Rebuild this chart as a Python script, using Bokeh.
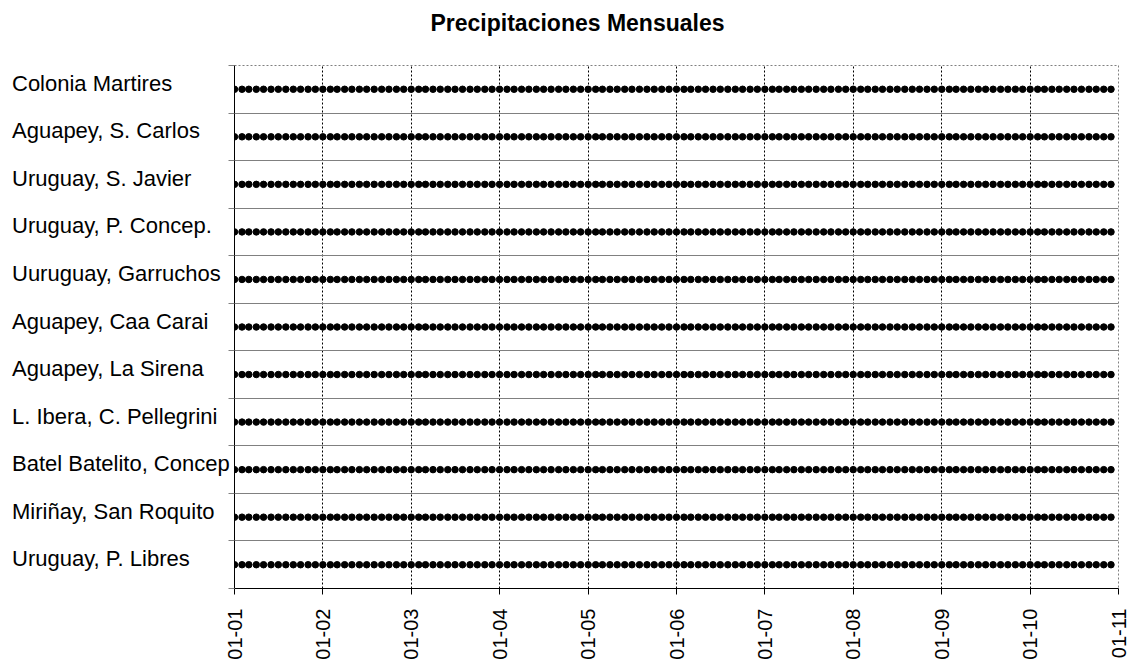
from datetime import datetime
import pandas as pd
from bokeh.plotting import figure
from bokeh.models import Range1d, FixedTicker, ColumnDataSource, Title, HTMLLabelSet
from bokeh.core.properties import value
from bokeh.embed import file_html
from bokeh.resources import INLINE

# ---- data ----
stations = [
    "Colonia Martires",
    "Aguapey, S. Carlos",
    "Uruguay, S. Javier",
    "Uruguay, P. Concep.",
    "Uuruguay, Garruchos",
    "Aguapey, Caa Carai",
    "Aguapey, La Sirena",
    "L. Ibera, C. Pellegrini",
    "Batel Batelito, Concep",
    "Miriñay, San Roquito",
    "Uruguay, P. Libres",
]
# first and last month with monthly precipitation record, per station
first_month = ["2001-01", "2001-01", "2001-01", "2001-01", "2001-01", "2001-01",
               "2001-01", "2001-01", "2001-01", "2001-01", "2001-01"]
last_month = ["2010-12", "2010-12", "2010-12", "2010-12", "2010-12", "2010-12",
              "2010-12", "2010-12", "2010-12", "2010-12", "2010-12"]
tick_years = [2001, 2002, 2003, 2004, 2005, 2006, 2007, 2008, 2009, 2010, 2011]
tick_labels = ["01-01", "01-02", "01-03", "01-04", "01-05", "01-06",
               "01-07", "01-08", "01-09", "01-10", "01-11"]

FONT = "Liberation Sans"
n = len(stations)
row_y = [n - i - 0.5 for i in range(n)]

xs, ys = [], []
for yv, a, b in zip(row_y, first_month, last_month):
    months = pd.date_range(a, b, freq="MS")
    xs.extend(months.to_pydatetime())
    ys.extend([yv] * len(months))
dots = ColumnDataSource(dict(x=xs, y=ys))

x0 = datetime(tick_years[0], 1, 1)
x1 = datetime(tick_years[-1], 1, 1)

p = figure(
    frame_width=884, frame_height=523,
    x_axis_type="datetime",
    x_range=Range1d(x0, x1), y_range=Range1d(0, n),
    output_backend="svg", toolbar_location=None,
    min_border_left=234, min_border_right=10, min_border_top=65, min_border_bottom=80,
    background_fill_color="white", border_fill_color="white",
    title=None,
)
p.outline_line_color = "#808080"
p.outline_line_dash = "2 2"

# spacer (closest to the frame), then the title above it
p.add_layout(Title(text=" ", text_font_size="1px", standoff=20), "above")
p.add_layout(Title(text="Precipitaciones Mensuales", align="left", offset=196,
                   text_font=FONT, text_font_size="23px", text_font_style="bold",
                   text_color="black", standoff=14), "above")

p.scatter("x", "y", source=dots, size=6.5, color="black", marker="circle")

# x axis
tick_ms = [datetime(y, 1, 1).timestamp() * 1000 for y in tick_years]
xa = p.xaxis[0]
xa.ticker = FixedTicker(ticks=tick_ms)
xa.major_label_overrides = {tm: lab for tm, lab in zip(tick_ms, tick_labels)}
xa.major_label_orientation = 3.14159265 / 2
xa.major_label_text_font = FONT
xa.major_label_text_font_size = "20px"
xa.major_label_text_color = "black"
xa.major_label_standoff = 14
xa.axis_line_color = "black"
xa.major_tick_line_color = "black"
xa.major_tick_in = 0
xa.major_tick_out = 6
xa.minor_tick_line_color = None

# y axis: ticks at category boundaries, labels drawn as annotations
ya = p.yaxis[0]
ya.ticker = FixedTicker(ticks=list(range(n + 1)))
ya.major_label_text_font_size = "0px"
ya.major_label_text_alpha = 0
ya.major_label_standoff = 0
ya.axis_line_color = "black"
ya.major_tick_line_color = "#808080"
ya.major_tick_in = 0
ya.major_tick_out = 6
ya.minor_tick_line_color = None

# grids
p.xgrid.ticker = FixedTicker(ticks=tick_ms)
p.xgrid.grid_line_color = "black"
p.xgrid.grid_line_dash = "2 2"
p.xgrid.grid_line_width = 1
p.ygrid.ticker = FixedTicker(ticks=list(range(n + 1)))
p.ygrid.grid_line_color = "#808080"
p.ygrid.grid_line_width = 1

# station labels, left aligned in the left margin
lab_src = ColumnDataSource(dict(x=[x0] * n, y=row_y, text=stations))
p.add_layout(HTMLLabelSet(x="x", y="y", text="text", source=lab_src,
                          x_offset=-222, y_offset=5,
                          text_align="left", text_baseline="middle",
                          text_font=value(FONT), text_font_size=value("22px"),
                          text_color="black"))

open("out.html", "w").write(file_html(p, INLINE))
